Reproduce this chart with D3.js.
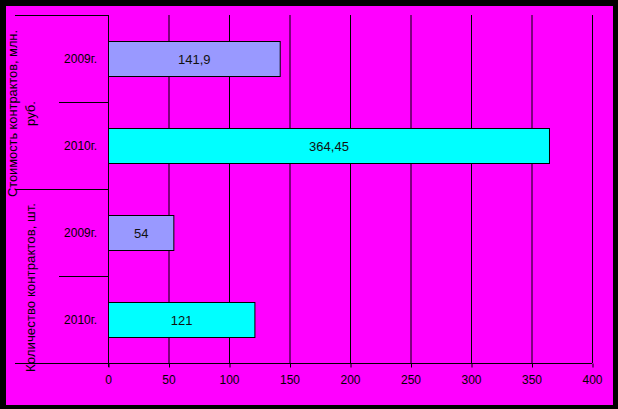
<!DOCTYPE html>
<html><head><meta charset="utf-8">
<script src="https://cdn.jsdelivr.net/npm/d3@7"></script>
<style>body{margin:0;background:#000}svg{display:block}</style>
</head><body>
<script>
// ---- data ----
const groups = ["Стоимость контрактов, млн. руб.", "Количество контрактов, шт."];
const groupLines = [["Стоимость контрактов, млн.", "руб."], ["Количество контрактов, шт."]];
const years = ["2009г.", "2010г."];
const costValues = [141.9, 364.45];
const countValues = [54, 121];
const xTicks = [0, 50, 100, 150, 200, 250, 300, 350, 400];
const yearColors = ["#9999FF", "#00FFFF"];

const W = 618, H = 409;
const rows = [];
groups.forEach((g, gi) => {
  const vals = gi === 0 ? costValues : countValues;
  years.forEach((y, yi) => rows.push({group: g, gi, year: y, yi, value: vals[yi], key: gi + "|" + yi}));
});

const svg = d3.select("body").append("svg").attr("width", W).attr("height", H);
svg.append("rect").attr("width", W).attr("height", H).attr("fill", "#000");
svg.append("rect").attr("x", 6).attr("y", 6).attr("width", 607).attr("height", 399).attr("fill", "#FF00FF");

const plotL = 108, plotR = 592, plotT = 15, plotB = 363;
const x = d3.scaleLinear().domain([0, 400]).range([plotL, plotR]);
const y = d3.scaleBand().domain(rows.map(d => d.key)).range([plotT, plotB]).paddingInner(0.6).paddingOuter(0.3);
const yCat = d3.scaleBand().domain(rows.map(d => d.key)).range([plotT, plotB]);
const yGrp = d3.scaleBand().domain(groups).range([plotT, plotB]);

const font = "'Liberation Sans', Arial, sans-serif";

// gridlines
svg.append("g").selectAll("line").data(xTicks.filter(t => t > 0)).join("line")
  .attr("x1", d => x(d) + 0.5).attr("x2", d => x(d) + 0.5)
  .attr("y1", plotT).attr("y2", plotB)
  .attr("stroke", "#000").attr("stroke-width", 1);

// x axis
const xAxis = d3.axisBottom(x).tickValues(xTicks).tickSize(4).tickPadding(8).tickFormat(d3.format("d"));
const gx = svg.append("g").attr("transform", `translate(0.5,${plotB + 0.5})`).call(xAxis);
gx.select(".domain").remove();
gx.selectAll("line").attr("stroke", "#000");
gx.selectAll("text").attr("font-family", font).attr("font-size", 12).attr("fill", "#000").attr("dy", "0.71em").attr("transform", "translate(-0.5,0)");
svg.append("line").attr("x1", 15).attr("x2", plotR).attr("y1", plotB + 0.5).attr("y2", plotB + 0.5).attr("stroke", "#000");

// category axis line
svg.append("line").attr("x1", plotL + 0.5).attr("x2", plotL + 0.5).attr("y1", plotT).attr("y2", plotB + 4).attr("stroke", "#000");

// group separators (outer level)
const gBounds = [plotT, ...groups.map(g => yGrp(g) + yGrp.bandwidth())];
svg.append("g").selectAll("line").data(gBounds.slice(0, -1)).join("line")
  .attr("x1", 15).attr("x2", plotL).attr("y1", d => Math.round(d) + 0.5).attr("y2", d => Math.round(d) + 0.5)
  .attr("stroke", "#000");
// inner category separators
svg.append("g").selectAll("line").data(rows.filter(r => r.yi === 1)).join("line")
  .attr("x1", 59).attr("x2", plotL).attr("y1", d => Math.round(yCat(d.key)) + 0.5).attr("y2", d => Math.round(yCat(d.key)) + 0.5)
  .attr("stroke", "#000");

// category labels
svg.append("g").selectAll("text").data(rows).join("text")
  .attr("x", 97).attr("y", d => yCat(d.key) + yCat.bandwidth() / 2)
  .attr("dy", "0.35em").attr("text-anchor", "end")
  .attr("font-family", font).attr("font-size", 12).attr("fill", "#000")
  .text(d => d.year);

// group labels (rotated)
const lineX = [[17, 34.5], [34.5]];
const lineLen = [[167, null], [169]];
groups.forEach((g, gi) => {
  const cy = yGrp(g) + yGrp.bandwidth() / 2 + 11.5;
  groupLines[gi].forEach((ln, li) => {
    const t = svg.append("text")
      .attr("transform", `translate(${lineX[gi][li]},${cy}) rotate(-90)`)
      .attr("text-anchor", "middle")
      .attr("font-family", font).attr("font-size", 13).attr("fill", "#000")
      .text(ln);
    if (lineLen[gi][li]) t.attr("textLength", lineLen[gi][li]).attr("lengthAdjust", "spacingAndGlyphs");
  });
});

// bars
svg.append("g").selectAll("rect").data(rows).join("rect")
  .attr("x", x(0) + 0.5).attr("y", d => Math.round(y(d.key)) + 0.5)
  .attr("width", d => x(d.value) - x(0)).attr("height", Math.round(y.bandwidth()))
  .attr("fill", d => yearColors[d.yi]).attr("stroke", "#000").attr("stroke-width", 1);

// value labels
const loc = d3.formatLocale({decimal: ",", thousands: " ", grouping: [3], currency: ["", ""]});
const fmt = v => loc.format("~f")(v);
svg.append("g").selectAll("text").data(rows).join("text")
  .attr("x", d => (x(0) + x(d.value)) / 2 + 0.5)
  .attr("y", d => y(d.key) + y.bandwidth() / 2 + 1)
  .attr("dy", "0.35em").attr("text-anchor", "middle")
  .attr("font-family", font).attr("font-size", 13).attr("fill", "#111")
  .text(d => fmt(d.value));
</script>
</body></html>
